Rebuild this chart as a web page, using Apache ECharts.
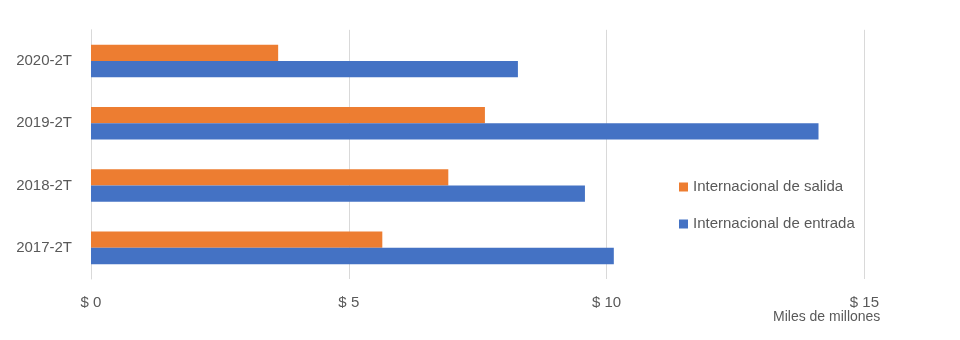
<!DOCTYPE html>
<html>
<head>
<meta charset="utf-8">
<script src="https://cdn.jsdelivr.net/npm/echarts@6/dist/echarts.min.js"></script>
<style>html,body{margin:0;padding:0;background:#fff}#c{width:960px;height:340px}</style>
</head>
<body>
<div id="c"></div>
<script>
var categories = ['2017-2T', '2018-2T', '2019-2T', '2020-2T'];
var salida = [5.65, 6.93, 7.64, 3.63];
var entrada = [10.14, 9.58, 14.11, 8.28];
var seriesNames = ['Internacional de salida', 'Internacional de entrada'];
var xTicks = [0, 5, 10, 15];

var chart = echarts.init(document.getElementById('c'));
var font = 'Liberation Sans, Arial, sans-serif';
chart.setOption({
  animation: false,
  textStyle: { fontFamily: font },
  grid: { left: 91, right: 95.6, top: 29.8, bottom: 61, containLabel: false },
  xAxis: {
    type: 'value', min: xTicks[0], max: xTicks[xTicks.length - 1], interval: 5,
    axisLine: { show: false }, axisTick: { show: false },
    splitLine: { lineStyle: { color: '#d9d9d9', width: 1 } },
    axisLabel: { color: '#595959', fontSize: 15, fontFamily: font, margin: 16,
      formatter: function (v) { return '$ ' + v; } }
  },
  yAxis: {
    type: 'category', data: categories,
    axisLine: { show: true, lineStyle: { color: '#d9d9d9', width: 1 } },
    axisTick: { show: false },
    axisLabel: { color: '#595959', fontSize: 15, fontFamily: font, margin: 19 }
  },
  legend: {
    orient: 'vertical', left: 679, top: 179.5, padding: 0,
    itemWidth: 9, itemHeight: 9, itemGap: 22,
    icon: 'rect',
    data: seriesNames,
    textStyle: { color: '#595959', fontSize: 15, fontFamily: font, padding: [0, 0, 0, 0] }
  },
  graphic: [{
    type: 'text', left: 773, top: 310,
    style: { text: 'Miles de millones', fill: '#595959', font: '14px Liberation Sans, Arial, sans-serif' }
  }],
  series: [
    { name: seriesNames[0], type: 'bar', data: salida, barWidth: 16.3, barGap: '0%',
      itemStyle: { color: '#ED7D31' } },
    { name: seriesNames[1], type: 'bar', data: entrada, barWidth: 16.3, barGap: '0%',
      itemStyle: { color: '#4472C4' } }
  ]
});
</script>
</body>
</html>
